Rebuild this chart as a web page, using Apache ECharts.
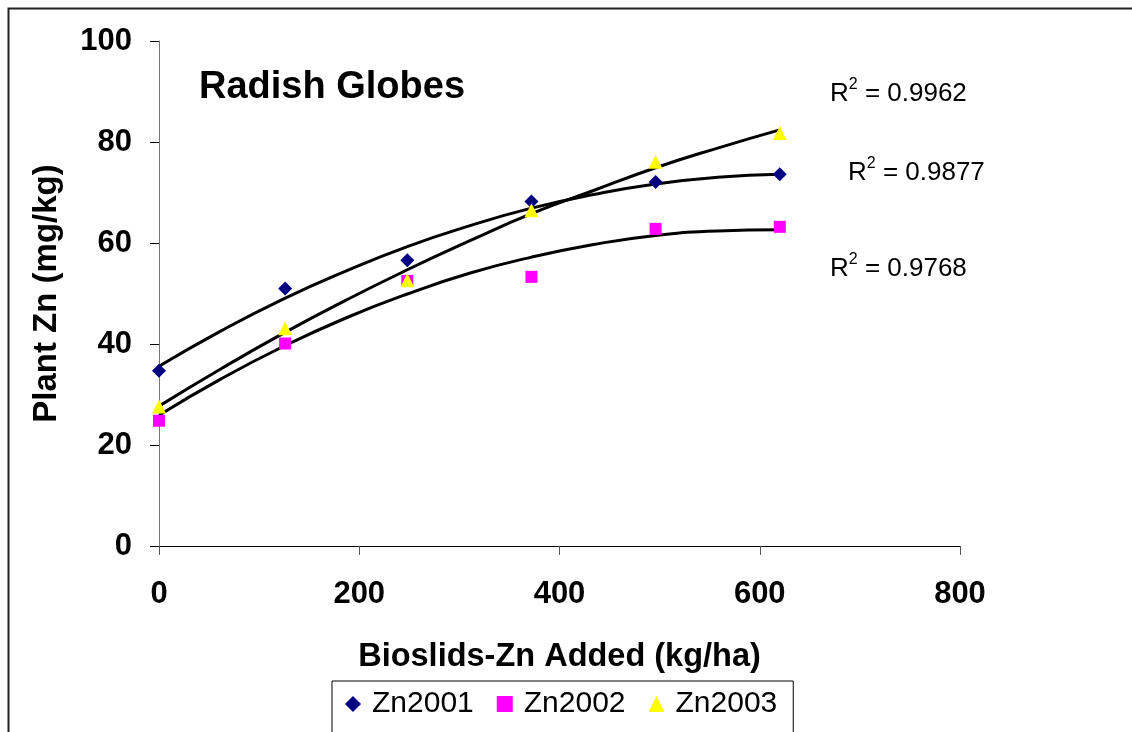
<!DOCTYPE html>
<html>
<head>
<meta charset="utf-8">
<title>Radish Globes</title>
<script src="https://cdn.jsdelivr.net/npm/echarts@6/dist/echarts.min.js"></script>
<style>
  html, body { margin: 0; padding: 0; background: #fff; }
  #main { width: 1132px; height: 732px; }
</style>
</head>
<body>
<div id="main"></div>
<script>
// biosolids-Zn added (kg/ha)
var znAdded = [0, 126, 248, 372, 496, 620];
// measured plant Zn (mg/kg)
var zn2001 = [34.7, 51.0, 56.6, 68.2, 72.1, 73.6];
var zn2002 = [24.8, 40.1, 52.5, 53.3, 62.8, 63.2];
var zn2003 = [27.6, 43.1, 52.6, 66.5, 76.1, 81.8];

// trendlines
var trendX = [0, 62, 124, 186, 248, 310, 372, 434, 496, 558, 620];
var trend2001 = [35.6, 42.6, 48.9, 54.4, 59.3, 63.4, 66.9, 69.6, 71.7, 73.0, 73.6];
var trend2002 = [25.9, 33.1, 39.5, 45.1, 49.9, 54.0, 57.2, 59.7, 61.5, 62.4, 62.6];
var trend2003 = [27.7, 35.1, 42.1, 48.6, 54.7, 60.4, 65.8, 70.4, 74.9, 78.8, 82.4];

var rSquared = ['0.9962', '0.9877', '0.9768'];

var xTicks = { min: 0, max: 800, interval: 200 };
var yTicks = { min: 0, max: 100, interval: 20 };

var font = 'Arial, "Liberation Sans", sans-serif';

function pairs(xs, ys) {
    return xs.map(function (x, i) { return [x, ys[i]]; });
}

function trendSeries(ys) {
    return {
        type: 'line',
        data: pairs(trendX, ys),
        smooth: true,
        showSymbol: false,
        silent: true,
        lineStyle: { color: '#000', width: 3 },
        z: 1
    };
}

function r2Text(left, top, val) {
    return {
        type: 'text',
        left: left,
        top: top,
        style: {
            text: '{a|R}{s|2}{a| = ' + val + '}',
            rich: {
                a: { fontFamily: font, fontSize: 26, color: '#000', lineHeight: 30, verticalAlign: 'bottom' },
                s: { fontFamily: font, fontSize: 16, color: '#000', lineHeight: 30, verticalAlign: 'top' }
            }
        }
    };
}

var myChart = echarts.init(document.getElementById('main'));

var option = {
    backgroundColor: '#fff',
    animation: false,
    title: {
        text: 'Radish Globes',
        left: 199,
        top: 69,
        padding: 0,
        textStyle: { fontFamily: font, fontSize: 38, fontWeight: 'bold', color: '#000' }
    },
    grid: {
        left: 159,
        top: 41,
        width: 801,
        height: 505,
        outerBoundsMode: 'none'
    },
    legend: {
        left: 332,
        top: 681,
        padding: [8, 16, 40, 13],
        borderColor: '#000',
        borderWidth: 1,
        itemWidth: 16,
        itemHeight: 16,
        itemGap: 23,
        textStyle: { fontFamily: font, fontSize: 30, color: '#000', padding: [0, 0, 0, 6] },
        data: [
            { name: 'Zn2001', icon: 'diamond' },
            { name: 'Zn2002', icon: 'rect' },
            { name: 'Zn2003', icon: 'triangle' }
        ]
    },
    xAxis: {
        type: 'value',
        min: xTicks.min,
        max: xTicks.max,
        interval: xTicks.interval,
        name: 'Bioslids-Zn Added (kg/ha)',
        nameLocation: 'middle',
        nameGap: 95,
        nameTextStyle: { fontFamily: font, fontSize: 32.5, fontWeight: 'bold', color: '#000' },
        axisLine: { show: true, lineStyle: { color: '#000', width: 1 } },
        axisTick: { show: true, inside: false, length: 9, lineStyle: { color: '#555' } },
        axisLabel: { margin: 33, fontFamily: font, fontSize: 31, fontWeight: 'bold', color: '#000' },
        splitLine: { show: false }
    },
    yAxis: {
        type: 'value',
        min: yTicks.min,
        max: yTicks.max,
        interval: yTicks.interval,
        name: 'Plant Zn (mg/kg)',
        nameLocation: 'middle',
        nameGap: 96,
        nameRotate: 90,
        nameTextStyle: { fontFamily: font, fontSize: 33, fontWeight: 'bold', color: '#000' },
        axisLine: { show: true, lineStyle: { color: '#777', width: 1 } },
        axisTick: { show: true, inside: false, length: 9, lineStyle: { color: '#000' } },
        axisLabel: { margin: 27, fontFamily: font, fontSize: 31, fontWeight: 'bold', color: '#000' },
        splitLine: { show: false }
    },
    graphic: [
        {
            type: 'rect',
            left: 6,
            top: 6,
            shape: { width: 1200, height: 800 },
            style: { fill: 'none', stroke: '#222', lineWidth: 2 },
            silent: true
        },
        r2Text(830, 77, rSquared[0]),
        r2Text(848, 156, rSquared[1]),
        r2Text(830, 252, rSquared[2])
    ],
    series: [
        trendSeries(trend2001),
        trendSeries(trend2002),
        trendSeries(trend2003),
        {
            name: 'Zn2001',
            type: 'scatter',
            symbol: 'diamond',
            symbolSize: 14,
            itemStyle: { color: '#000080', opacity: 1 },
            data: pairs(znAdded, zn2001),
            z: 3
        },
        {
            name: 'Zn2002',
            type: 'scatter',
            symbol: 'rect',
            symbolSize: 12,
            itemStyle: { color: '#ff00ff', opacity: 1 },
            data: pairs(znAdded, zn2002),
            z: 3
        },
        {
            name: 'Zn2003',
            type: 'scatter',
            symbol: 'triangle',
            symbolSize: 14,
            itemStyle: { color: '#ffff00', opacity: 1 },
            data: pairs(znAdded, zn2003),
            z: 3
        }
    ]
};

myChart.setOption(option);
</script>
</body>
</html>
